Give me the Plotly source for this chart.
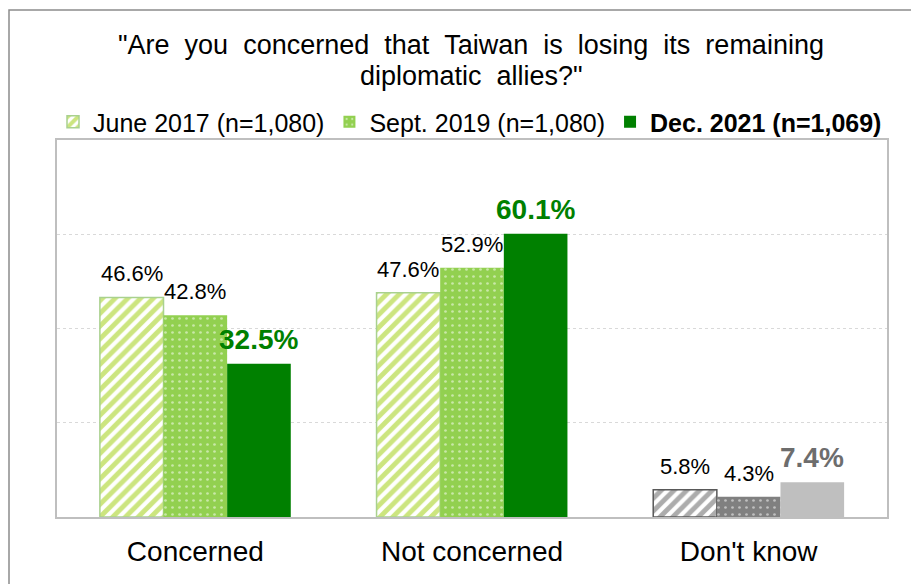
import plotly.graph_objects as go

categories = ["Concerned", "Not concerned", "Don't know"]
june2017 = [46.6, 47.6, 5.8]
sept2019 = [42.8, 52.9, 4.3]
dec2021 = [32.5, 60.1, 7.4]
series_names = ["June 2017 (n=1,080)", "Sept. 2019 (n=1,080)", "<b>Dec. 2021 (n=1,069)</b>"]
title_lines = ['"Are you concerned that Taiwan is losing its remaining', 'diplomatic allies?"']

FONT = "Arial, Liberation Sans, sans-serif"
W, H = 911, 576          # page has an 8px body margin
L, R, T, B = 49, 32, 132, 67
BARGAP = 0.31

pw, ph = W - L - R, H - T - B
bar_px = pw / len(categories) * (1 - BARGAP) / 3   # width of one bar in px

main_cats, dk_cats = categories[:2], categories[2:]

fig = go.Figure()

def add_bar(x, y, name, group, show, marker):
    fig.add_trace(go.Bar(
        x=x, y=y, name=name, offsetgroup=group, legendgroup=group, showlegend=show,
        marker=marker,
    ))

# June 2017
add_bar(main_cats, june2017[:2], series_names[0], "a", True,
        dict(color="white", line=dict(color="#A9D18E", width=1.5),
             pattern=dict(shape="/", fgcolor="#99CC00", bgcolor="white", size=9,
                          solidity=0.55, fillmode="overlay")))
# Sept 2019
add_bar(main_cats, sept2019[:2], series_names[1], "b", True,
        dict(color="#92D050", line=dict(width=0),
             pattern=dict(shape=".", fgcolor="white", bgcolor="#92D050", size=7,
                          solidity=0.12, fillmode="overlay")))
# Dec 2021
add_bar(main_cats, dec2021[:2], series_names[2], "c", True,
        dict(color="#008000", line=dict(width=0)))

# Don't know (gray)
add_bar(dk_cats, june2017[2:], series_names[0], "a", False,
        dict(color="white", line=dict(color="#595959", width=1.5),
             pattern=dict(shape="/", fgcolor="#595959", bgcolor="white", size=9,
                          solidity=0.55, fillmode="overlay")))
add_bar(dk_cats, sept2019[2:], series_names[1], "b", False,
        dict(color="#808080", line=dict(width=0),
             pattern=dict(shape=".", fgcolor="white", bgcolor="#808080", size=7,
                          solidity=0.12, fillmode="overlay")))
add_bar(dk_cats, dec2021[2:], series_names[2], "c", False,
        dict(color="#BFBFBF", line=dict(width=0)))

# value labels
for si, (vals, shift) in enumerate([(june2017, -1), (sept2019, 0), (dec2021, 1)]):
    for ci, (cat, v) in enumerate(zip(categories, vals)):
        if si == 2:
            col = "#008000" if ci < 2 else "#6D6D6D"
            txt, size, ys = f"<b>{v}%</b>", 28, 7
        else:
            col, txt, size, ys = "black", f"{v}%", 22, 9
        fig.add_annotation(x=cat, y=v, xref="x", yref="y", text=txt, showarrow=False,
                           xanchor="center", yanchor="bottom", xshift=shift * bar_px,
                           yshift=ys, font=dict(family=FONT, size=size, color=col))

def px_to_paper_x(px):
    return (px - 8 - L) / pw

def px_to_paper_y(py):
    return ((H - B) - (py - 8)) / ph

# title as two annotations (tight line spacing like the reference)
for line, py in zip(title_lines, [45, 76]):
    fig.add_annotation(text=line.replace(" ", " \u00a0"), xref="paper", yref="paper",
                       x=px_to_paper_x(471), y=px_to_paper_y(py),
                       xanchor="center", yanchor="middle", showarrow=False,
                       font=dict(family=FONT, size=27, color="black"))

fig.update_layout(
    width=W, height=H,
    margin=dict(l=L, r=R, t=T, b=B),
    paper_bgcolor="white", plot_bgcolor="white",
    barmode="group", bargap=BARGAP, bargroupgap=0,
    font=dict(family=FONT, color="black"),
    legend=dict(orientation="h", x=px_to_paper_x(470), xanchor="center",
                y=px_to_paper_y(122), yanchor="middle", bgcolor="rgba(0,0,0,0)",
                font=dict(family=FONT, size=25, color="black"),
                itemwidth=30, tracegroupgap=0, traceorder="normal"),
    showlegend=True,
    xaxis=dict(showline=True, linecolor="#BFBFBF", linewidth=1.5, mirror=True,
               ticks="", tickfont=dict(family=FONT, size=28, color="black"),
               ticklabelstandoff=9),
    yaxis=dict(range=[0, 80], dtick=20, showticklabels=False, showgrid=True,
               gridcolor="#D9D9D9", griddash="dot", gridwidth=1,
               showline=True, linecolor="#BFBFBF", linewidth=1.5, mirror=True,
               zeroline=False, ticks=""),
)

# outer frame of the chart (only left and top edges visible in window)
fig.add_shape(type="rect", xref="paper", yref="paper",
              x0=px_to_paper_x(9), x1=px_to_paper_x(W + 40),
              y0=px_to_paper_y(H + 40), y1=px_to_paper_y(10),
              line=dict(color="#8C8C8C", width=1.5), fillcolor="rgba(0,0,0,0)", layer="below")

fig.write_html("out.html")
